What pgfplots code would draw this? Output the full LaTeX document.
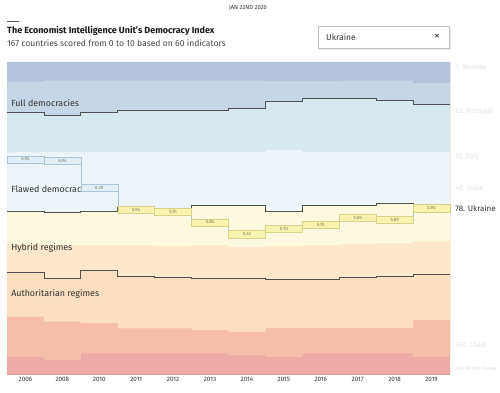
\documentclass[border=0pt]{standalone}
\usepackage{fontspec}
\setmainfont{Fira Sans}
\usepackage{pgfplots}
\pgfplotsset{compat=1.18}
\definecolor{fullA}{HTML}{B3C3DD}
\definecolor{fullB}{HTML}{C5D7E6}
\definecolor{flawA}{HTML}{D7E9EF}
\definecolor{flawB}{HTML}{EEF5F9}
\definecolor{hybA}{HTML}{FDF9DE}
\definecolor{hybB}{HTML}{FDE8CB}
\definecolor{autA}{HTML}{FCDFC1}
\definecolor{autB}{HTML}{F6BEA9}
\definecolor{autC}{HTML}{EEAAA7}
\definecolor{stepline}{HTML}{505050}
\definecolor{ukyfill}{HTML}{F8F3AE}
\definecolor{ukydraw}{HTML}{D9D08A}
\definecolor{ukbfill}{HTML}{E3EFF6}
\definecolor{ukbdraw}{HTML}{A9C5D6}
\definecolor{uktext}{HTML}{7A7A60}
\definecolor{txt}{HTML}{333333}
\definecolor{faint}{HTML}{E2E2E2}
\begin{document}
\begin{tikzpicture}[x=1pt,y=-1pt]
\path[use as bounding box, fill=white] (0,0) rectangle (500,393);
\begin{axis}[at={(7pt,-374pt)}, anchor=south west, scale only axis,
  width=443pt, height=312pt,
  xmin=0, xmax=12, ymin=0, ymax=167, y dir=reverse,
  axis line style={draw=none}, ytick=\empty,
  xtick={0.5,1.5,2.5,3.5,4.5,5.5,6.5,7.5,8.5,9.5,10.5,11.5},
  xticklabels={2006,2008,2010,2011,2012,2013,2014,2015,2016,2017,2018,2019},
  xticklabel style={font=\fontsize{6.3}{7}\selectfont, text=txt},
  tick style={draw=none},
  /pgf/number format/assume math mode=true,
  clip=false]
% stacked bands, bottom first
\addplot[fill=autC, draw=none, const plot] coordinates {(0,167) (12,167)} \closedcycle;
\addplot[fill=autB, draw=none, const plot] coordinates {(0,157.8) (1,159.5) (2,155.9) (3,155.9) (4,155.9) (5,155.9) (6,156.9) (7,157.8) (8,155.9) (9,155.9) (10,155.9) (11,157.8) (12,157.8)} \closedcycle;
\addplot[fill=autA, draw=none, const plot] coordinates {(0,136.3) (1,139) (2,139.7) (3,142.6) (4,142.6) (5,143.5) (6,144.4) (7,142.4) (8,142.4) (9,142.4) (10,142.4) (11,138.1) (12,138.1)} \closedcycle;
\addplot[fill=hybB, draw=none, const plot] coordinates {(0,112.8) (1,115.8) (2,111.7) (3,114.6) (4,115.5) (5,116) (6,115.9) (7,116.3) (8,116.3) (9,115.5) (10,114.6) (11,113.5) (12,113.5)} \closedcycle;
\addplot[fill=hybA, draw=none, const plot] coordinates {(0,97.5) (1,98) (2,98) (3,98) (4,98.5) (5,98) (6,99) (7,98.5) (8,98) (9,97.5) (10,97) (11,96) (12,96)} \closedcycle;
\addplot[fill=flawB, draw=none, const plot] coordinates {(0,79.8) (1,80.5) (2,79.8) (3,77.8) (4,78.2) (5,76.6) (6,76.6) (7,79.8) (8,76.6) (9,76.6) (10,75.6) (11,76.6) (12,76.6)} \closedcycle;
\addplot[fill=flawA, draw=none, const plot] coordinates {(0,48.2) (1,48.2) (2,48.2) (3,48.2) (4,48.2) (5,48.2) (6,48.2) (7,47.1) (8,48.2) (9,48.2) (10,48.2) (11,48.2) (12,48.2)} \closedcycle;
\addplot[fill=fullB, draw=none, const plot] coordinates {(0,26.9) (1,28.7) (2,26.9) (3,25.7) (4,25.7) (5,25.7) (6,24.8) (7,20.9) (8,19.6) (9,19.6) (10,20.7) (11,22.9) (12,22.9)} \closedcycle;
\addplot[fill=fullA, draw=none, const plot] coordinates {(0,10.5) (1,10) (2,10) (3,10) (4,10) (5,10) (6,10) (7,10.2) (8,10.2) (9,10) (10,10) (11,11.2) (12,11.2)} \closedcycle;
% category boundary lines
\addplot[stepline, line width=0.7pt, const plot] coordinates {(0,26.9) (1,28.7) (2,26.9) (3,25.7) (4,25.7) (5,25.7) (6,24.8) (7,20.9) (8,19.6) (9,19.6) (10,20.7) (11,22.9) (12,22.9)};
\addplot[stepline, line width=0.7pt, const plot] coordinates {(0,79.8) (1,80.5) (2,79.8) (3,77.8) (4,78.2) (5,76.6) (6,76.6) (7,79.8) (8,76.6) (9,76.6) (10,75.6) (11,76.6) (12,76.6)};
\addplot[stepline, line width=0.7pt, const plot] coordinates {(0,112.8) (1,115.8) (2,111.7) (3,114.6) (4,115.5) (5,116) (6,115.9) (7,116.3) (8,116.3) (9,115.5) (10,114.6) (11,113.5) (12,113.5)};
\addplot[color={rgb,255:red,214;green,150;blue,150}, line width=0.6pt] coordinates {(0,167) (12,167)};
% category labels
\node[anchor=west, text=txt, font=\fontsize{8.9}{10}\selectfont, inner sep=0pt] at (axis cs:0.11,21.9) {Full democracies};
\node[anchor=west, text=txt, font=\fontsize{8.9}{10}\selectfont, inner sep=0pt] at (axis cs:0.11,68) {Flawed democracies};
\node[anchor=west, text=txt, font=\fontsize{8.9}{10}\selectfont, inner sep=0pt] at (axis cs:0.11,99.6) {Hybrid regimes};
\node[anchor=west, text=txt, font=\fontsize{8.9}{10}\selectfont, inner sep=0pt] at (axis cs:0.11,124.2) {Authoritarian regimes};
% Ukraine path connector
\addplot[color=ukbdraw, line width=0.5pt, const plot] coordinates {(0,52.1) (1,53.0) (2,67.3) (3,79.2) (4,80.1) (5,85.8) (6,92.2) (7,89.2) (8,87.3) (9,83.4) (10,84.6) (11,78.3) (12,78.3)};
% Ukraine boxes
\addplot[fill=ukbfill, draw=ukbdraw, line width=0.5pt] coordinates {(0,50.2) (1,50.2) (1,54.0) (0,54.0) (0,50.2)};
\addplot[fill=ukbfill, draw=ukbdraw, line width=0.5pt] coordinates {(1,51.1) (2,51.1) (2,54.9) (1,54.9) (1,51.1)};
\addplot[fill=ukbfill, draw=ukbdraw, line width=0.5pt] coordinates {(2,65.4) (3,65.4) (3,69.2) (2,69.2) (2,65.4)};
\addplot[fill=ukyfill, draw=ukydraw, line width=0.5pt] coordinates {(3,77.3) (4,77.3) (4,81.1) (3,81.1) (3,77.3)};
\addplot[fill=ukyfill, draw=ukydraw, line width=0.5pt] coordinates {(4,78.2) (5,78.2) (5,82.0) (4,82.0) (4,78.2)};
\addplot[fill=ukyfill, draw=ukydraw, line width=0.5pt] coordinates {(5,83.9) (6,83.9) (6,87.7) (5,87.7) (5,83.9)};
\addplot[fill=ukyfill, draw=ukydraw, line width=0.5pt] coordinates {(6,90.3) (7,90.3) (7,94.1) (6,94.1) (6,90.3)};
\addplot[fill=ukyfill, draw=ukydraw, line width=0.5pt] coordinates {(7,87.3) (8,87.3) (8,91.1) (7,91.1) (7,87.3)};
\addplot[fill=ukyfill, draw=ukydraw, line width=0.5pt] coordinates {(8,85.4) (9,85.4) (9,89.2) (8,89.2) (8,85.4)};
\addplot[fill=ukyfill, draw=ukydraw, line width=0.5pt] coordinates {(9,81.5) (10,81.5) (10,85.3) (9,85.3) (9,81.5)};
\addplot[fill=ukyfill, draw=ukydraw, line width=0.5pt] coordinates {(10,82.7) (11,82.7) (11,86.5) (10,86.5) (10,82.7)};
\addplot[fill=ukyfill, draw=ukydraw, line width=0.5pt] coordinates {(11,76.4) (12,76.4) (12,80.2) (11,80.2) (11,76.4)};
% score labels
\addplot[only marks, mark=*, mark size=0pt, mark options={draw=none, fill=none},
  nodes near coords, point meta=explicit symbolic,
  nodes near coords style={anchor=center, inner sep=0pt, text=uktext, font=\fontsize{4.6}{5}\selectfont}]
  table[meta=s] {
x y s
0.5 52.1 6.94
1.5 53.0 6.94
2.5 67.3 6.30
3.5 79.2 5.94
4.5 80.1 5.91
5.5 85.8 5.84
6.5 92.2 5.42
7.5 89.2 5.70
8.5 87.3 5.70
9.5 83.4 5.69
10.5 84.6 5.69
11.5 78.3 5.90
};
% right-hand labels
\node[anchor=west, text=txt, font=\fontsize{8}{9}\selectfont, inner sep=0pt] at (axis cs:12.14,78.3) {78. Ukraine};
\node[anchor=west, text=faint, font=\fontsize{7}{8}\selectfont, inner sep=0pt] at (axis cs:12.14,3.2) {1. Norway};
\node[anchor=west, text=faint, font=\fontsize{7}{8}\selectfont, inner sep=0pt] at (axis cs:12.14,26.8) {22. Portugal};
\node[anchor=west, text=faint, font=\fontsize{7}{8}\selectfont, inner sep=0pt] at (axis cs:12.14,50.9) {31. Italy};
\node[anchor=west, text=faint, font=\fontsize{7}{8}\selectfont, inner sep=0pt] at (axis cs:12.14,67.5) {48. India};
\node[anchor=west, text=faint, font=\fontsize{7}{8}\selectfont, inner sep=0pt] at (axis cs:12.14,151.5) {153. Chad};
\node[anchor=west, text=faint, font=\fontsize{5.6}{6}\selectfont, inner sep=0pt] at (axis cs:12.14,163.8) {167. North Korea};
\end{axis}
% header
\node[anchor=center, text=txt, font=\fontsize{5.8}{7}\selectfont, inner sep=0pt] at (248,8) {JAN 22ND 2020};
\draw[color={rgb,255:red,90;green,90;blue,90}, line width=0.8pt] (7,21.7) -- (19,21.7);
\node[anchor=west, text={rgb,255:red,25;green,25;blue,25}, font=\bfseries\fontsize{9}{10}\selectfont, inner sep=0pt] at (7,30.5) {The Economist Intelligence Unit’s Democracy Index};
\node[anchor=west, text={rgb,255:red,70;green,70;blue,70}, font=\fontsize{8.6}{9.5}\selectfont, inner sep=0pt] at (7,43) {167 countries scored from 0 to 10 based on 60 indicators};
\draw[color={rgb,255:red,230;green,230;blue,230}, line width=1pt] (319,27.5) rectangle (450,49.5);
\draw[color={rgb,255:red,195;green,195;blue,195}, fill=white, line width=0.6pt] (318,26) rectangle (449,48);
\node[anchor=west, text=txt, font=\fontsize{8.5}{9}\selectfont, inner sep=0pt] at (326,37) {Ukraine};
\node[anchor=center, text=txt, font=\fontsize{11}{11}\selectfont, inner sep=0pt] at (437,37) {×};
\end{tikzpicture}
\end{document}
